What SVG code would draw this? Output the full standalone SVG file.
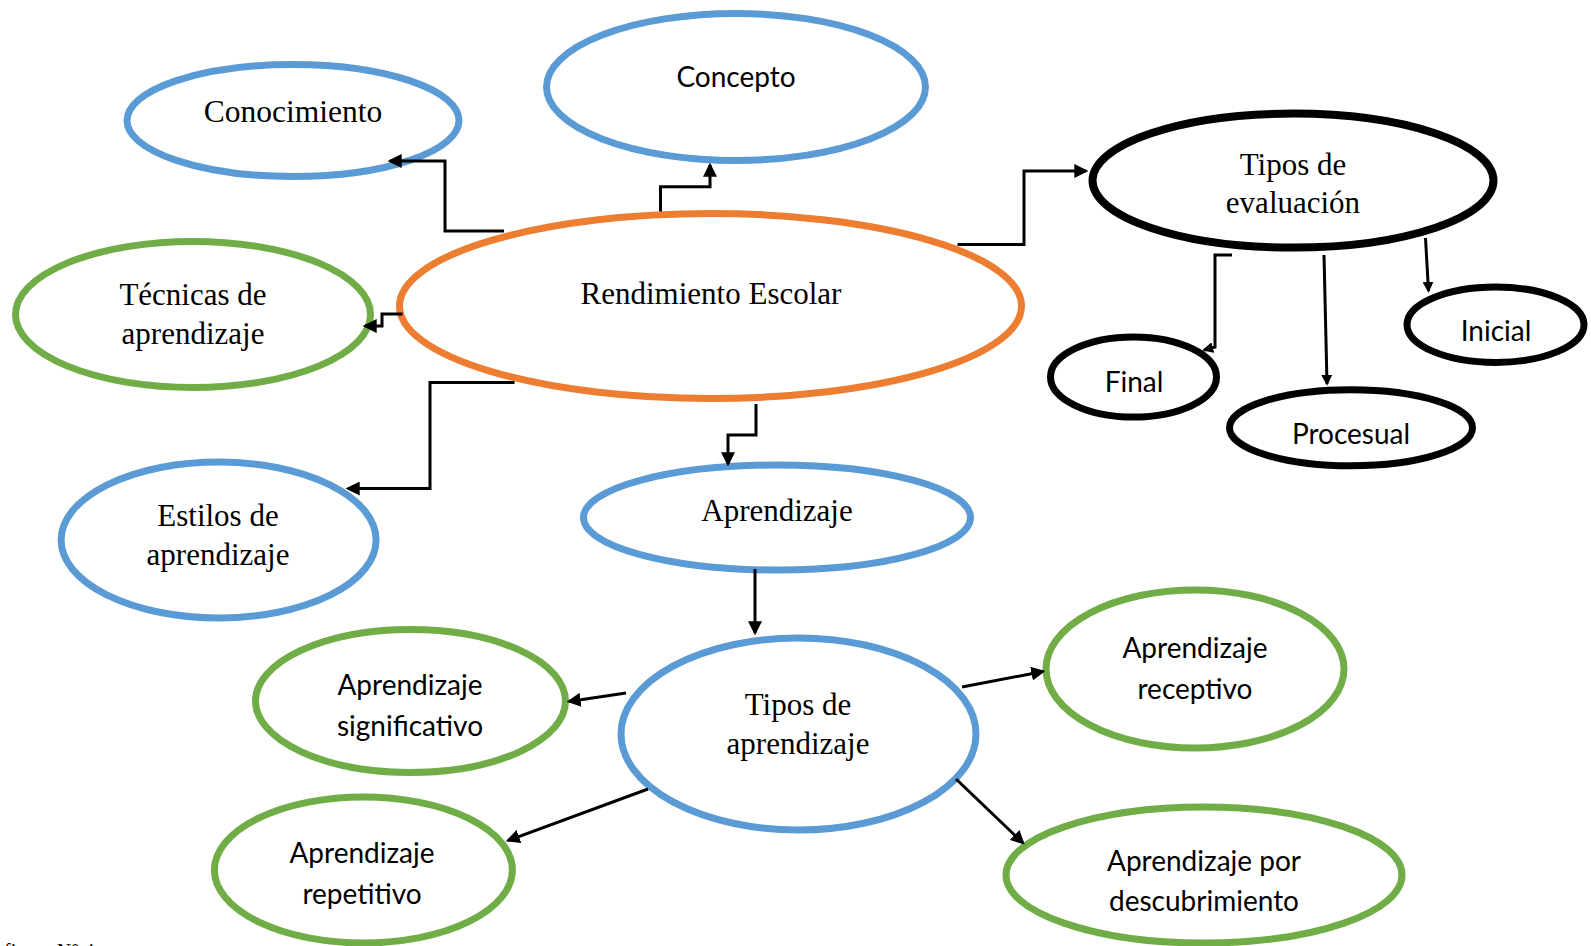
<svg xmlns="http://www.w3.org/2000/svg" width="1591" height="946" viewBox="0 0 1591 946">
<style>
.n{fill:#fff;stroke-width:7}
.blue{stroke:#5B9BD5}
.orange{stroke:#ED7D31}
.green{stroke:#70AD47}
.black{stroke:#000}
.serif{font-family:"Liberation Serif","Times New Roman",serif;font-size:31px;fill:#000;text-anchor:middle}
.sans{font-family:Lato,"Open Sans","Liberation Sans",sans-serif;font-size:28px;fill:#000;text-anchor:middle}
.c{fill:none;stroke:#000;stroke-width:3;stroke-linejoin:miter}
.big{marker-end:url(#arr)}
.small{marker-end:url(#arrs)}
</style>
<defs>
<marker id="arr" viewBox="0 0 12 12" refX="10" refY="6" markerWidth="14" markerHeight="14" markerUnits="userSpaceOnUse" orient="auto">
<path d="M0,0 L12,6 L0,12 z" fill="#000"/>
</marker>
<marker id="arrs" viewBox="0 0 12 12" refX="10" refY="6" markerWidth="11" markerHeight="11" markerUnits="userSpaceOnUse" orient="auto">
<path d="M0,0 L12,6 L0,12 z" fill="#000"/>
</marker>
<clipPath id="clipProc"><rect x="1220" y="380" width="260" height="64"/></clipPath>
</defs>
<rect width="1591" height="946" fill="#fff"/>

<g id="conocimiento"><ellipse class="n blue" cx="293" cy="120.5" rx="166" ry="56"/><text class="serif" x="293" y="122" style="font-size:31.5px">Conocimiento</text></g>
<g id="concepto"><ellipse class="n blue" cx="736" cy="87" rx="189.5" ry="73.5"/><text class="sans" x="736" y="87">Concepto</text></g>
<g id="rendimiento"><ellipse class="n orange" cx="710.5" cy="306" rx="311" ry="92.5"/><text class="serif" x="711" y="304">Rendimiento Escolar</text></g>
<g id="tecnicas"><ellipse class="n green" cx="193" cy="314.5" rx="177.5" ry="73"/><text class="serif" x="193" y="304.5">Técnicas de</text><text class="serif" x="193" y="343.5">aprendizaje</text></g>
<g id="estilos"><ellipse class="n blue" cx="218.6" cy="540" rx="157.5" ry="78"/><text class="serif" x="218" y="526">Estilos de</text><text class="serif" x="218" y="565">aprendizaje</text></g>
<g id="tipos-evaluacion"><ellipse class="n black" style="stroke-width:8" cx="1293" cy="180.6" rx="200.5" ry="67"/><text class="serif" x="1293" y="174.5">Tipos de</text><text class="serif" x="1293" y="213">evaluación</text></g>
<g id="final"><ellipse class="n black" cx="1133.5" cy="377" rx="83" ry="40"/><text class="sans" x="1134" y="392">Final</text></g>
<g id="procesual"><ellipse class="n black" cx="1351" cy="427.7" rx="121.5" ry="38"/><text class="sans" x="1351" y="444" clip-path="url(#clipProc)">Procesual</text></g>
<g id="inicial"><ellipse class="n black" cx="1495.5" cy="324.7" rx="88.5" ry="37.7"/><text class="sans" x="1496" y="341">Inicial</text></g>
<g id="aprendizaje"><ellipse class="n blue" cx="777" cy="517.5" rx="193.5" ry="52.5"/><text class="serif" x="777" y="521">Aprendizaje</text></g>
<g id="tipos-aprendizaje"><ellipse class="n blue" cx="798.5" cy="734" rx="177.5" ry="96"/><text class="serif" x="798" y="714.5">Tipos de</text><text class="serif" x="798" y="753.5">aprendizaje</text></g>
<g id="significativo"><ellipse class="n green" cx="410.5" cy="701" rx="155" ry="71.5"/><text class="sans" x="410" y="695">Aprendizaje</text><text class="sans" x="410" y="735.5">significativo</text></g>
<g id="receptivo"><ellipse class="n green" cx="1195" cy="669" rx="149" ry="79"/><text class="sans" x="1195" y="658">Aprendizaje</text><text class="sans" x="1195" y="698.5">receptivo</text></g>
<g id="repetitivo"><ellipse class="n green" cx="363.4" cy="870" rx="149" ry="73"/><text class="sans" x="362" y="863">Aprendizaje</text><text class="sans" x="362" y="903.5">repetitivo</text></g>
<g id="descubrimiento"><ellipse class="n green" cx="1204" cy="875" rx="198" ry="68"/><text class="sans" x="1204" y="871">Aprendizaje por</text><text class="sans" x="1204" y="911">descubrimiento</text></g>

<g id="connectors">
<path class="c big" d="M504,231 H445 V161 H390"/>
<path class="c big" d="M402.5,314 H382 V326 H365"/>
<path class="c big" d="M514.5,382.5 H430 V488.5 H348"/>
<path class="c big" d="M660.5,211.5 V186.7 H710 V165"/>
<path class="c big" d="M957.5,244.5 H1024 V171 H1086"/>
<path class="c big" d="M756,404 V435 H728 V464"/>
<path class="c big" d="M755,569 V633"/>
<path class="c big" d="M626,693 L569,701.5"/>
<path class="c big" d="M962,687 L1043,671.5"/>
<path class="c big" d="M648,789 L508,840.5"/>
<path class="c big" d="M956,779 L1023,843"/>
<path class="c small" d="M1232,255 H1215 V347 L1204,350"/>
<path class="c small" d="M1324,255 L1327,384"/>
<path class="c small" d="M1425.5,238 L1428.5,291"/>
</g>

<text x="4" y="958" style="font-family:'Liberation Serif','Times New Roman',serif;font-size:20px;fill:#000">figura N° 4</text>
</svg>
